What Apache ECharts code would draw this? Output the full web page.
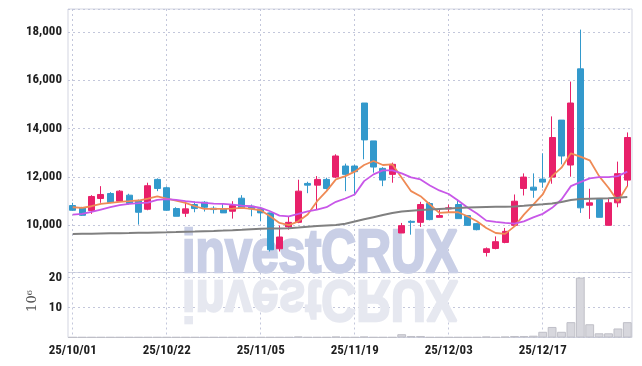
<!DOCTYPE html>
<html>
<head>
<meta charset="utf-8">
<script src="https://cdn.jsdelivr.net/npm/echarts@6.0.0/dist/echarts.min.js"></script>
<style>
html,body{margin:0;padding:0;background:#fff;}
#main{width:642px;height:366px;}
</style>
</head>
<body>
<div id="main"></div>
<script>
// ---- Data ----
const dates = [
 '25/10/01','25/10/02','25/10/10','25/10/13','25/10/14','25/10/15','25/10/16','25/10/17','25/10/20','25/10/21',
 '25/10/22','25/10/23','25/10/24','25/10/27','25/10/28','25/10/29','25/10/30','25/10/31','25/11/03','25/11/04',
 '25/11/05','25/11/06','25/11/07','25/11/10','25/11/11','25/11/12','25/11/13','25/11/14','25/11/17','25/11/18',
 '25/11/19','25/11/20','25/11/21','25/11/24','25/11/25','25/11/26','25/11/27','25/11/28','25/12/01','25/12/02',
 '25/12/03','25/12/04','25/12/05','25/12/08','25/12/09','25/12/10','25/12/11','25/12/12','25/12/15','25/12/16',
 '25/12/17','25/12/18','25/12/19','25/12/22','25/12/23','25/12/24','25/12/26','25/12/29','25/12/30','26/01/02'
];
const opens = [
 10811,10716,10603,11102,11310,10990,11240,11019,10658,11893,
 11548,10686,10491,10853,10949,10699,10686,10575,11115,10782,
 10674,10507,9022,9925,10116,11726,11656,11893,11989,12446,
 12446,15054,13486,12350,12101,9675,10158,10116,10894,10324,
 10674,10853,10395,10062,8869,9035,9284,9992,11518,11573,
 11906,11989,14347,12488,16469,10824,11061,9992,10924,11864
];
const closes = [
 10616,10408,11186,11269,10936,11406,10894,10533,11631,11518,
 10616,10366,10674,10686,10741,10645,10507,10811,10716,10674,
 10507,8981,9509,10116,11406,11656,11893,11518,12862,12101,
 12213,13528,12404,11864,12517,9979,10116,10853,10229,10395,
 10716,10270,9992,9813,9022,9314,9742,10990,11989,11448,
 11781,13627,12862,15054,10716,10924,10324,10924,12130,13627
];
const lows = [
 10600,10383,10466,10924,10907,10975,10853,10021,10616,11406,
 10600,10366,10341,10533,10562,10478,10507,10270,10716,10366,
 10158,8910,8910,9813,10080,11323,10645,11477,11950,11406,
 11269,12725,12172,11614,11755,9675,9605,9925,10200,10324,
 10507,10270,9970,9784,8702,9000,9250,9950,11227,11131,
 11548,11714,12517,12005,10507,10258,10324,9992,10741,11589
];
const highs = [
 10924,10757,11240,11614,11365,11448,11298,11061,11755,11934,
 11600,10740,10949,10978,10990,10782,10894,10990,11240,10853,
 10757,10520,9979,10341,11880,11797,12030,11963,12933,12546,
 12500,15054,13486,12400,12587,10091,10200,10965,10950,10645,
 10853,11061,10420,10091,9076,9534,9883,11269,12142,12142,
 12974,14501,14347,15941,18092,11506,11100,11131,12629,13836
];
const ma5 = [
 10741,10716,10782,10882,10924,10965,10990,11019,11102,11186,
 11102,11019,10924,10782,10674,10674,10674,10686,10716,10674,
 10616,10366,10091,10000,10158,10437,10990,11406,11893,12030,
 12213,12488,12654,12488,12517,11964,11406,11198,10853,10507,
 10533,10533,10366,10158,9883,9675,9640,9950,10437,10853,
 11269,12030,12379,12974,12837,12683,12030,11548,10990,11614
];
const ma10 = [
 10437,10466,10549,10645,10741,10824,10882,10907,10936,11048,
 11073,11048,10990,10949,10924,10894,10882,10853,10811,10782,
 10716,10574,10395,10366,10466,10574,10645,10741,10965,11102,
 11269,11822,12101,12267,12267,12142,11976,11893,11643,11435,
 11290,11019,10728,10478,10187,10133,10090,10062,10158,10324,
 10466,10716,11061,11614,11781,11934,11989,11989,12030,12213
];
const maLong = [
 9636,9642,9648,9654,9660,9666,9672,9680,9688,9697,
 9706,9716,9727,9738,9750,9762,9775,9790,9808,9828,
 9848,9858,9865,9875,9900,9930,9960,9985,10010,10056,
 10150,10240,10330,10420,10500,10560,10600,10630,10650,10670,
 10690,10710,10730,10745,10755,10760,10765,10775,10800,10830,
 10860,10900,10960,11040,11080,11090,11100,11110,11130,11160
];
// volume in units of 10^6
const volumes = [
 0.1,0.1,0.1,0.1,0.1,0.1,0.1,0.1,0.1,0.1,
 0.1,0.1,0.1,0.1,0.1,0.1,0.1,0.1,0.1,0.1,
 0.1,0.1,0.1,0.1,0.3,0.1,0.1,0.1,0.3,0.1,
 0.1,0.3,0.1,0.1,0.1,1.1,0.5,0.5,0.1,0.1,
 0.1,0.1,0.1,0.1,0.3,0.1,0.3,0.5,0.5,0.6,
 1.9,3.5,1.9,5.1,19.9,4.4,1.4,1.4,3.0,5.1
];
const volumeUnitLabel = '10⁶';
const watermarkText = 'investCRUX';

// ---- Chart ----
const candleData = dates.map((d, i) => [opens[i], closes[i], lows[i], highs[i]]);
const UP = '#e8206a', DOWN = '#3399cc';
const gridLine = '#c3c7db';
const labelFont = "'Liberation Sans Narrow','Roboto Condensed','Roboto',sans-serif";

const chart = echarts.init(document.getElementById('main'), null, {renderer: 'canvas'});
const option = {
  animation: false,
  backgroundColor: '#ffffff',
  grid: [
    {left: 68, right: 10, top: 9, height: 263.5, show: true, borderColor: '#d3d5e1', borderWidth: 1, backgroundColor: 'transparent', outerBoundsMode: 'none'},
    {left: 68, right: 10, top: 272.5, height: 65, show: true, borderColor: '#d3d5e1', borderWidth: 1, backgroundColor: 'transparent', outerBoundsMode: 'none'}
  ],
  xAxis: [
    {type: 'category', gridIndex: 0, data: dates, boundaryGap: true,
     axisLine: {show: false}, axisTick: {show: false}, axisLabel: {show: false, interval: 9},
     splitLine: {show: true, interval: 9, alignWithLabel: true, lineStyle: {color: gridLine, type: [2, 3], width: 1}}},
    {type: 'category', gridIndex: 1, data: dates, boundaryGap: true,
     axisLine: {show: false}, axisTick: {show: false},
     axisLabel: {show: true, interval: 9, margin: 7, color: '#1e1e1e', fontSize: 13, fontWeight: 'bold', fontFamily: labelFont},
     splitLine: {show: true, interval: 9, alignWithLabel: true, lineStyle: {color: gridLine, type: [2, 3], width: 1}}}
  ],
  yAxis: [
    {type: 'value', gridIndex: 0, min: 8040, max: 18945, splitNumber: 5, scale: true,
     axisLine: {show: false}, axisTick: {show: false},
     axisLabel: {showMinLabel: false, showMaxLabel: false, margin: 6, color: '#1e1e1e', fontSize: 13, fontWeight: 'bold', fontFamily: labelFont,
       formatter: v => (v % 2000 === 0 ? v.toLocaleString('en-US') : '')},
     splitLine: {show: true, lineStyle: {color: gridLine, type: [2, 3], width: 1}}},
    {type: 'value', gridIndex: 1, min: 0, max: 21.6, splitNumber: 2,
     axisLine: {show: false}, axisTick: {show: false},
     axisLabel: {showMinLabel: false, showMaxLabel: false, margin: 6, color: '#1e1e1e', fontSize: 13, fontWeight: 'bold', fontFamily: labelFont,
       formatter: v => (v % 10 === 0 && v > 0 ? String(v) : '')},
     splitLine: {show: true, lineStyle: {color: gridLine, type: [2, 3], width: 1}}}
  ],
  graphic: [
    {type: 'text', z: 1, x: 320, y: 277, scaleX: 0.79, silent: true,
     style: {text: watermarkText, x: 0, y: -21.5, font: 'bold 61px "Liberation Sans", Arial, sans-serif', fill: '#c9cfe6', stroke: '#c9cfe6', lineWidth: 2.5, align: 'center', verticalAlign: 'middle'}},
    {type: 'text', z: 1, x: 320, y: 277, scaleX: 0.79, scaleY: -0.95, silent: true,
     style: {text: watermarkText, x: 0, y: -21.5, font: 'bold 61px "Liberation Sans", Arial, sans-serif', fill: '#e6e8f0', stroke: '#e6e8f0', lineWidth: 2.5, align: 'center', verticalAlign: 'middle'}},
    {type: 'text', z: 5, x: 33, y: 301, rotation: Math.PI / 2, silent: true,
     style: {text: volumeUnitLabel, x: 0, y: 0, font: '13px "DejaVu Serif", "Liberation Serif", serif', fill: '#555555', align: 'center', verticalAlign: 'middle'}}
  ],
  series: [
    {type: 'candlestick', name: 'price', xAxisIndex: 0, yAxisIndex: 0, data: candleData, barWidth: '68%',
     itemStyle: {color: UP, color0: DOWN, borderColor: UP, borderColor0: DOWN, borderWidth: 1}},
    {type: 'line', name: 'MA5', xAxisIndex: 0, yAxisIndex: 0, data: ma5, symbol: 'none', smooth: false,
     lineStyle: {color: '#ef8a55', width: 1.8}},
    {type: 'line', name: 'MA10', xAxisIndex: 0, yAxisIndex: 0, data: ma10, symbol: 'none', smooth: false,
     lineStyle: {color: '#c857e8', width: 1.8}},
    {type: 'line', name: 'MA-long', xAxisIndex: 0, yAxisIndex: 0, data: maLong, symbol: 'none', smooth: false,
     lineStyle: {color: '#808080', width: 2}},
    {type: 'bar', name: 'volume', xAxisIndex: 1, yAxisIndex: 1, data: volumes, barCategoryGap: '6%',
     itemStyle: {color: '#d7d7dd', borderColor: '#bfbfc7', borderWidth: 1}}
  ]
};
chart.setOption(option);
</script>
</body>
</html>
